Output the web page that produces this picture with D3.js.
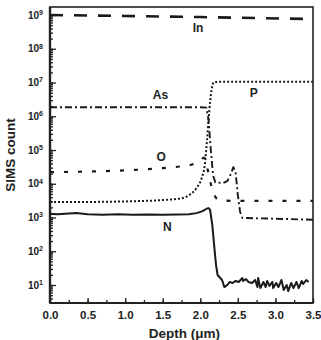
<!DOCTYPE html>
<html>
<head>
<meta charset="utf-8">
<script src="https://cdn.jsdelivr.net/npm/d3@7"></script>
<style>
  body { margin: 0; background: #fff; }
  svg text { font-family: "Liberation Sans", Arial, sans-serif; font-weight: bold; fill: #222; }
</style>
</head>
<body>
<div class="graph--sims"></div>
<script>
// Depth in um, SIMS counts
var inDepth = [0, 1.0, 2.0, 3.5];
var inCount = [1.0e9, 9.4e8, 8.7e8, 7.6e8];

var asDepth = [0, 1.0, 2.0, 2.08, 2.11, 2.14, 2.17, 2.2, 2.3, 2.36, 2.4, 2.44, 2.47, 2.5, 2.53, 2.56, 3.0, 3.5];
var asCount = [1.85e6, 1.85e6, 1.85e6, 1.8e6, 7.8e5, 1.0e5, 1.8e4, 1.1e4, 1.05e4, 1.2e4, 1.8e4, 3.1e4, 2.2e4, 4.6e3, 1.46e3, 9.7e2, 9.2e2, 8.6e2];

var pDepth = [0, 0.5, 1.0, 1.5, 1.75, 1.85, 1.95, 2.02, 2.06, 2.09, 2.12, 2.15, 2.18, 2.3, 3.5];
var pCount = [2.9e3, 2.9e3, 3.0e3, 3.3e3, 3.7e3, 4.6e3, 7.5e3, 1.5e4, 3.6e4, 2.0e5, 1.5e6, 6.0e6, 1.03e7, 1.05e7, 1.05e7];

var oDepth = [0, 0.5, 1.0, 1.5, 1.75, 1.9, 2.0, 2.05, 2.1, 2.14, 2.18, 2.25, 2.5, 3.5];
var oCount = [2.2e4, 2.3e4, 2.5e4, 2.9e4, 3.3e4, 3.8e4, 4.8e4, 6.0e4, 2.5e4, 1.0e4, 5.0e3, 3.3e3, 3.1e3, 3.1e3];

var nDepth = [0, 0.1, 0.2, 0.35, 0.5, 0.7, 0.9, 1.1, 1.3, 1.5, 1.7, 1.85, 1.95, 2.03, 2.09, 2.11, 2.13, 2.16, 2.19, 2.21, 2.23,
  2.29, 2.32, 2.36, 2.39, 2.43, 2.47, 2.51, 2.56, 2.57, 2.61, 2.64, 2.69, 2.73, 2.76, 2.77, 2.8, 2.84, 2.87, 2.89, 2.92,
  2.96, 2.97, 3.01, 3.04, 3.08, 3.11, 3.15, 3.17, 3.21, 3.24, 3.28, 3.31, 3.35, 3.37, 3.41, 3.44];
var nCount = [1.3e3, 1.25e3, 1.3e3, 1.35e3, 1.25e3, 1.2e3, 1.25e3, 1.2e3, 1.22e3, 1.2e3, 1.22e3, 1.25e3, 1.35e3, 1.55e3, 1.85e3, 1.9e3, 1.7e3, 600, 110, 39, 19.8,
  14.1, 8.7, 10.0, 12.3, 11.5, 13.2, 12.3, 16.1, 13.2, 14.9, 12.3, 11.5, 14.1, 8.7, 16.1, 8.1, 12.3, 8.7, 13.2, 9.4,
  12.3, 8.1, 11.5, 8.7, 14.1, 7.1, 10.0, 6.6, 11.5, 8.1, 12.3, 8.1, 13.2, 10.7, 14.1, 12.3];

// Axis ticks
var xTicks = [0, 0.5, 1.0, 1.5, 2.0, 2.5, 3.0, 3.5];
var yTickExps = [1, 2, 3, 4, 5, 6, 7, 8, 9];

// Series labels placed in data units
var labels = [
  {text: "In", depth: 1.97, count: 4.1e8},
  {text: "As", depth: 1.47, count: 4.3e6},
  {text: "P", depth: 2.71, count: 4.9e6},
  {text: "O", depth: 1.48, count: 6.2e4},
  {text: "N", depth: 1.56, count: 525}
];

var margin = {top: 7, left: 50, right: 8, bottom: 37};
var width = 321, height = 340;

var svg = d3.select(".graph--sims").append("svg")
    .attr("width", width)
    .attr("height", height);

var x = d3.scaleLinear()
    .domain([0, 3.5])
    .range([margin.left, width - margin.right]);
var y = d3.scaleLog()
    .domain([2.93, 1.73e9])
    .range([height - margin.bottom, margin.top]);

var pair = function(xs, ys) { return xs.map(function(d, i) { return [d, ys[i]]; }); };

// Minor ticks (inward)
var xMinor = d3.range(0, 3.51, 0.25);
svg.append("g")
    .attr("transform", "translate(0," + (height - margin.bottom) + ")")
    .call(d3.axisBottom(x).tickValues(xMinor).tickSize(-3).tickFormat(""))
    .call(function(g) { g.select(".domain").remove(); });
svg.append("g")
    .attr("transform", "translate(" + margin.left + ",0)")
    .call(d3.axisLeft(y).tickValues(y.ticks()).tickSize(-3).tickFormat(""))
    .call(function(g) { g.select(".domain").remove(); });

// X Axis for depth
var xAxisEl = svg.append("g")
    .attr("transform", "translate(0," + (height - margin.bottom) + ")")
    .call(d3.axisBottom(x).tickValues(xTicks).tickSize(-5).tickPadding(8).tickFormat(d3.format(".1f")));
xAxisEl.select(".domain").remove();
xAxisEl.selectAll("text").attr("font-size", "11.5px").attr("font-family", null);

// Y Axis for counts
var yAxisEl = svg.append("g")
    .attr("transform", "translate(" + margin.left + ",0)")
    .call(d3.axisLeft(y).tickValues(yTickExps.map(function(e) { return Math.pow(10, e); })).tickSize(-6).tickPadding(7).tickFormat(""));
yAxisEl.select(".domain").remove();
yAxisEl.selectAll("text")
    .attr("font-size", "10px")
    .attr("font-family", null)
    .each(function(d, i) {
      var t = d3.select(this);
      t.text("10");
      t.append("tspan")
        .attr("dy", "-0.55em")
        .attr("font-size", "7px")
        .text(yTickExps[i]);
    });
svg.selectAll(".tick line").attr("stroke", "#222").attr("stroke-width", 1.3);

// Frame
svg.append("rect")
    .attr("x", x(0))
    .attr("y", y.range()[1])
    .attr("width", x(3.5) - x(0))
    .attr("height", y.range()[0] - y.range()[1])
    .attr("fill", "none")
    .attr("stroke", "#222")
    .attr("stroke-width", 1.6);
svg.append("line")
    .attr("x1", x(0)).attr("x2", x(0))
    .attr("y1", y.range()[1]).attr("y2", y.range()[0])
    .attr("stroke", "#222").attr("stroke-width", 2.4);
svg.append("line")
    .attr("x1", x(0)).attr("x2", x(3.5))
    .attr("y1", y.range()[0]).attr("y2", y.range()[0])
    .attr("stroke", "#222").attr("stroke-width", 2.2);

// Profiles
var line = d3.line()
    .x(function(d) { return x(d[0]); })
    .y(function(d) { return y(d[1]); });
var smooth = d3.line()
    .curve(d3.curveMonotoneX)
    .x(function(d) { return x(d[0]); })
    .y(function(d) { return y(d[1]); });

var series = [
  {data: pair(inDepth, inCount), gen: line, width: 2.6, dash: "13,11"},
  {data: pair(asDepth, asCount), gen: line, width: 1.9, dash: "7,3,2,3"},
  {data: pair(pDepth, pCount), gen: smooth, width: 2.0, dash: "2,2"},
  {data: pair(oDepth, oCount), gen: smooth, width: 2.2, dash: "4,10"},
  {data: pair(nDepth, nCount), gen: line, width: 2.0, dash: null}
];
svg.append("g").selectAll("path")
    .data(series)
    .enter().append("path")
    .attr("d", function(s) { return s.gen(s.data); })
    .attr("fill", "none")
    .attr("stroke", "#1a1a1a")
    .attr("stroke-width", function(s) { return s.width; })
    .attr("stroke-dasharray", function(s) { return s.dash; })
    .attr("stroke-linejoin", "round");

svg.append("g").selectAll("text")
    .data(labels)
    .enter().append("text")
    .attr("x", function(d) { return x(d.depth); })
    .attr("y", function(d) { return y(d.count); })
    .attr("dy", "0.36em")
    .attr("text-anchor", "middle")
    .attr("font-size", "12px")
    .text(function(d) { return d.text; });

// Axis titles
svg.append("text")
    .attr("x", (x(0) + x(3.5)) / 2 + 3)
    .attr("y", height - 2)
    .attr("text-anchor", "middle")
    .attr("font-size", "13.5px")
    .text("Depth (\u03bcm)");
svg.append("text")
    .attr("transform", "translate(15," + (y(1e5) + 5) + ") rotate(-90)")
    .attr("text-anchor", "middle")
    .attr("font-size", "13.5px")
    .text("SIMS count");
</script>
</body>
</html>
